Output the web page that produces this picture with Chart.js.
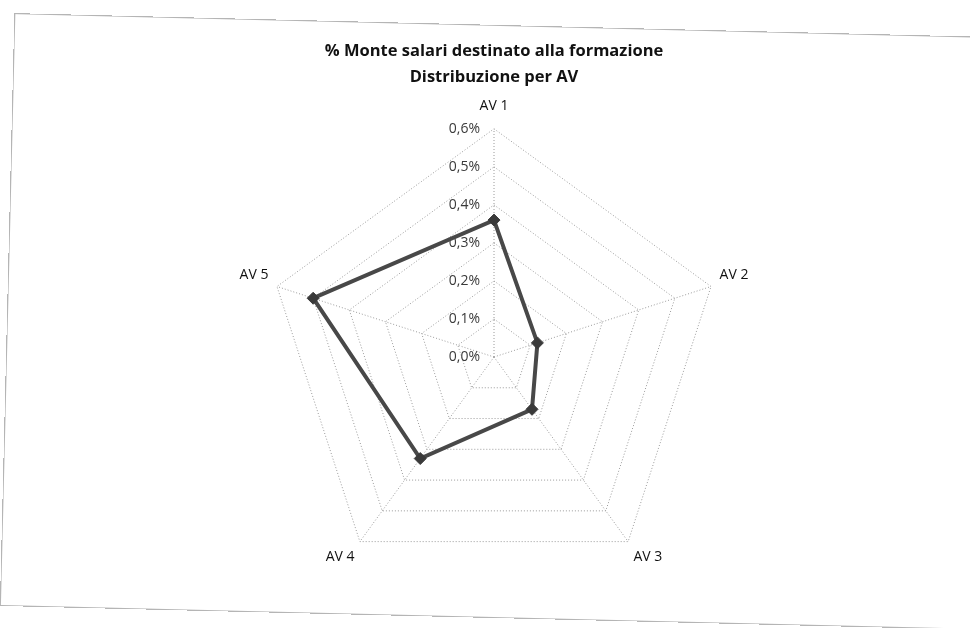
<!DOCTYPE html>
<html>
<head>
<meta charset="utf-8">
<script src="https://cdn.jsdelivr.net/npm/chart.js@4.4.1/dist/chart.umd.min.js"></script>
<style>
  html, body { margin: 0; padding: 0; background: #fff; overflow: hidden; }
  #wrap { position: relative; width: 970px; height: 628px; overflow: hidden; }
  #frame {
    position: absolute; left: 7px; top: 25px; width: 1010px; height: 593px;
    border: 1px solid #b5b5b5; box-sizing: border-box;
    transform-origin: 490px 296px;
    transform: rotate(1.4deg); pointer-events: none;
  }
  canvas { position: absolute; left: 0; top: 0; }
</style>
</head>
<body>
<div id="wrap">
  <canvas id="radarChart" width="970" height="628"></canvas>
  <div id="frame"></div>
</div>
<script>
const categories = ['AV 1', 'AV 2', 'AV 3', 'AV 4', 'AV 5'];
const shareValues = [0.36, 0.12, 0.17, 0.33, 0.50];   // % of payroll
const titleLines = ['% Monte salari destinato alla formazione', 'Distribuzione per AV'];

const fmtPct = v => v.toFixed(1).replace('.', ',') + '%';

// Excel puts the tick labels left of the vertical axis, so draw them ourselves
const tickLabels = {
    id: 'tickLabels',
    beforeDatasetsDraw(chart) {
        const r = chart.scales.r;
        const ctx = chart.ctx;
        ctx.save();
        ctx.font = '14px "Open Sans"';
        ctx.fillStyle = '#3a3a3a';
        ctx.textAlign = 'right';
        ctx.textBaseline = 'middle';
        r.ticks.forEach(t => {
            const d = r.getDistanceFromCenterForValue(t.value);
            ctx.fillText(fmtPct(t.value), r.xCenter - 14, r.yCenter - d);
        });
        ctx.restore();
    }
};

Chart.defaults.font.family = '"Open Sans", sans-serif';

new Chart(document.getElementById('radarChart').getContext('2d'), {
    type: 'radar',
    data: {
        labels: categories,
        datasets: [{
            label: '% Monte salari',
            data: shareValues,
            borderColor: '#484848',
            backgroundColor: 'transparent',
            borderWidth: 4,
            fill: false,
            pointStyle: 'rectRot',
            pointRadius: 6,
            pointBackgroundColor: '#3a3a3a',
            pointBorderColor: '#3a3a3a',
            pointBorderWidth: 1
        }]
    },
    options: {
        responsive: false,
        animation: false,
        layout: { padding: { left: 18, right: 0, top: 0, bottom: 26 } },
        plugins: {
            legend: { display: false },
            tooltip: { enabled: false },
            title: {
                display: true,
                text: titleLines,
                color: '#111',
                font: { size: 16.5, weight: 'bold', lineHeight: '26px' },
                padding: { top: 38, bottom: -7 }
            }
        },
        scales: {
            r: {
                min: 0,
                max: 0.6,
                ticks: { stepSize: 0.1, display: false },
                grid: { color: '#9a9a9a', lineWidth: 1 },
                border: { dash: [1, 2] },
                angleLines: { color: '#9a9a9a', lineWidth: 1, borderDash: [1, 2] },
                pointLabels: {
                    color: '#111',
                    font: { size: 14 },
                    padding: ctx => ctx.index === 0 ? 14 : 9
                }
            }
        }
    },
    plugins: [tickLabels]
});
</script>
</body>
</html>
